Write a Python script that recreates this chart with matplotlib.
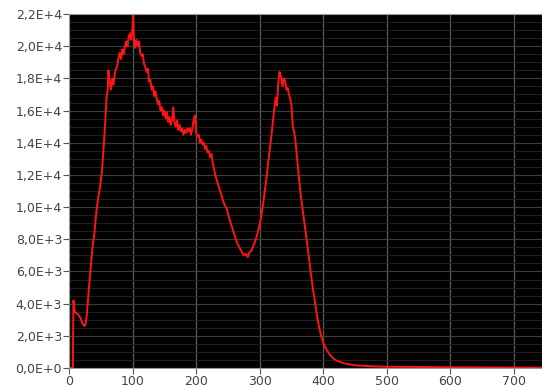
import matplotlib
matplotlib.use("Agg")
import matplotlib.pyplot as plt
from matplotlib.ticker import FuncFormatter, MultipleLocator

# channel / counts
channel = [0, 6, 7, 9, 12, 15, 18, 21, 24, 26, 28, 31, 34, 37, 40, 43, 46, 49, 52, 55,
           57, 59, 61, 62, 64, 66, 68, 70, 72, 74, 76, 78, 80, 82, 84, 86, 88, 90, 92, 94,
           96, 98, 100, 101, 102, 104, 106, 108, 110, 112, 114, 116, 118, 120, 122, 124,
           126, 128, 130, 132, 134, 136, 138, 140, 142, 144, 146, 148, 150, 152, 154, 156,
           158, 160, 162, 164, 166, 168, 170, 172, 174, 176, 178, 180, 182, 184, 186, 188,
           190, 192, 194, 196, 198, 200, 202, 204, 206, 208, 210, 212, 214, 216, 218, 220,
           222, 224, 226, 228, 230, 233, 236, 240, 244, 248, 252, 256, 260, 264, 268, 272,
           275, 278, 281, 284, 287, 290, 294, 298, 302, 306, 310, 314, 318, 322, 325, 327,
           329, 331, 332, 334, 336, 338, 340, 342, 344, 346, 348, 350, 352, 354, 356, 360,
           364, 368, 372, 376, 380, 384, 388, 392, 396, 400, 405, 410, 415, 420, 430, 440,
           450, 460, 480, 500, 550, 600, 650, 700, 745]
counts = [0, 0, 4200, 3500, 3400, 3300, 3100, 2800, 2600, 2700, 3300, 4800, 6200, 7500,
          8400, 9700, 10600, 11300, 12300, 14000, 15300, 16800, 17300, 18500, 17800, 17300,
          18000, 17600, 18300, 18600, 18800, 19300, 19600, 19200, 19800, 19500, 20000, 20300,
          20000, 20600, 20800, 20400, 21200, 22000, 20600, 19900, 20400, 20000, 20300, 19600,
          19400, 19500, 18900, 18700, 18400, 18600, 17800, 17900, 17300, 17500, 16900, 17200,
          16700, 16400, 16600, 16000, 16200, 15700, 16000, 15500, 15900, 15300, 15600, 15100,
          15400, 16200, 15200, 15000, 15400, 14800, 15100, 14700, 14900, 14500, 14800, 14600,
          14900, 14700, 14900, 14500, 14900, 15400, 15700, 14600, 14400, 14500, 14000, 14200,
          13900, 14000, 13600, 13800, 13400, 13500, 13100, 13300, 12800, 12400, 12000, 11600,
          11200, 10700, 10200, 9900, 9300, 8800, 8300, 7800, 7500, 7200, 7000, 7100, 6900,
          7200, 7300, 7600, 8000, 8600, 9300, 10400, 11600, 13000, 14300, 15800, 16800, 16300,
          17600, 18400, 18300, 18000, 17500, 18000, 17800, 17300, 17400, 17000, 16700, 16300,
          15000, 14700, 14200, 12500, 10900, 9700, 8500, 7300, 6000, 4850, 3800, 2800, 2100,
          1550, 1150, 850, 620, 480, 320, 230, 170, 140, 100, 80, 60, 45, 35, 30, 20]


def sci_comma(v, pos):
    if v == 0:
        return "0,0E+0"
    exp = len(str(int(abs(v)))) - 1
    mant = v / 10 ** exp
    return ("%.1fE+%d" % (mant, exp)).replace(".", ",")


fig = plt.figure(figsize=(5.42, 3.90), dpi=100)
ax = fig.add_axes([0.1273, 0.0564, 0.8727, 0.9077])
ax.set_facecolor("black")

ax.plot(channel, counts, color="#ff1414", lw=1.4)

ax.set_xlim(0, 744)
ax.set_ylim(0, 22000)
ax.xaxis.set_major_locator(MultipleLocator(100))
ax.yaxis.set_major_locator(MultipleLocator(2000))
ax.yaxis.set_minor_locator(MultipleLocator(500))
ax.yaxis.set_major_formatter(FuncFormatter(sci_comma))

ax.grid(which="major", axis="x", color="#5c5c5c", lw=0.9)
ax.grid(which="major", axis="y", color="#3c3c3c", lw=0.8)
ax.grid(which="minor", axis="y", color="#222222", lw=0.7)
ax.set_axisbelow(True)
ax.tick_params(which="minor", length=0)
ax.tick_params(which="major", length=4, color="#555555", labelcolor="#444444", labelsize=9, pad=1)

for s in ax.spines.values():
    s.set_color("#999999")
    s.set_linewidth(0.8)

fig.savefig("out.png", dpi=100)
